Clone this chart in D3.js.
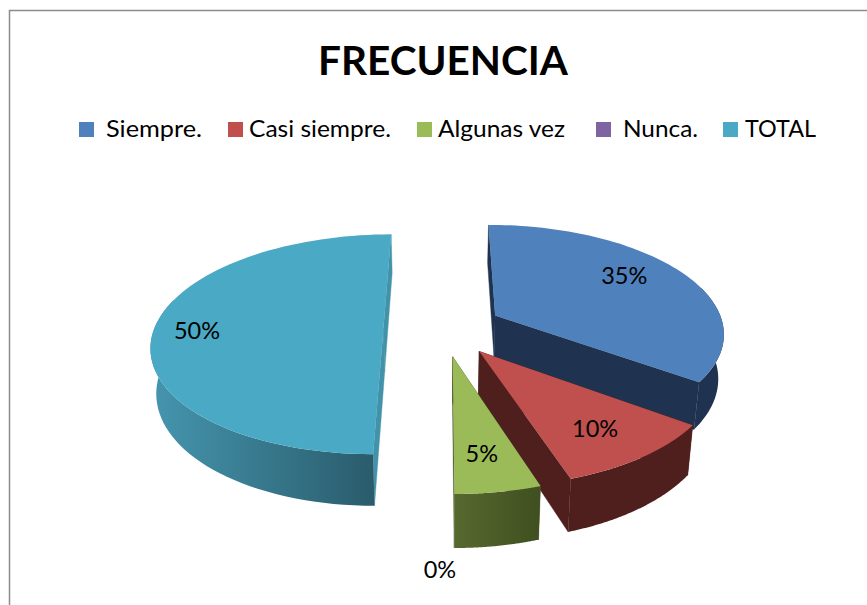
<!DOCTYPE html>
<html><head><meta charset="utf-8">
<script src="https://cdn.jsdelivr.net/npm/d3@7"></script>
<style>html,body{margin:0;padding:0;background:#fff}svg{display:block}text{font-family:Lato,"Open Sans",sans-serif;fill:#000}</style>
</head><body><svg id="c" width="867" height="605"></svg>
<script>
const categories = ["Siempre.", "Casi siempre.", "Algunas vez", "Nunca.", "TOTAL"];
const values = [35, 10, 5, 0, 50];
const topColors = ["#4f81bd", "#c0504d", "#9bbb59", "#8064a2", "#4aa9c4"];
const wallFrom = ["#1f3350", "#4f1f1e", "#57692f", "#40304f", "#4596af"];
const wallTo = ["#1f3350", "#4f1f1e", "#3f4f20", "#40304f", "#2a5c6c"];
const faceColors = ["#1f3350", "#4f1f1e", "#4a5a28", "#40304f", "#4292aa"];
const labels = ["35%", "10%", "5%", "0%", "50%"];
const legendSwatchX = [79, 228, 417, 596, 723];
const legendTextX = [106, 249, 438, 623, 745];
const legendTextW = [96, 142, 127, 75, 71];
const labelPolar = [[.74, 57], [.75, 145], [.745, 172], [1.43, 180.4], [.81, 268]];

const cx = 443, cy = 328, R = 229, Q = 107.5, p = .148, H = 44, shrink = .98, explode = .26;
const svg = d3.select("#c");
svg.append("path").attr("d", "M9.5,605V10.5H867").attr("fill", "none").attr("stroke", "#8c8c8c").attr("stroke-width", 1.5);

const rad = d3.scaleLinear().domain([0, 360]).range([0, 2 * Math.PI]);
const arcs = d3.pie().sort(null).value(d => d).startAngle(0).endAngle(2 * Math.PI)(values);
const project = (X, V, bottom) => {
  const w = 1 + p * V;
  return [cx + (bottom ? shrink : 1) * R * X / w, cy - Q * V / w + (bottom ? H / w : 0)];
};
const point = (a, mid, r, bottom) => project(
  explode * Math.sin(mid) + r * Math.sin(a),
  explode * Math.cos(mid) + r * Math.cos(a), bottom);
const line = d3.line();
const defs = svg.append("defs");

const order = [0, 4, 1, 2];
order.forEach(i => {
  const d = arcs[i], mid = (d.startAngle + d.endAngle) / 2;
  const angles = d3.range(0, 81).map(k => d.startAngle + (d.endAngle - d.startAngle) * k / 80);
  const top = angles.map(a => point(a, mid, 1, false));
  const wallAngles = angles.filter(a => Math.cos(a) < .3);
  const wallTop = wallAngles.map(a => point(a, mid, 1, false));
  const wallBot = wallAngles.map(a => point(a, mid, 1, true));
  const apexT = point(0, mid, 0, false), apexB = point(0, mid, 0, true);
  const g = svg.append("g");
  const xs = wallTop.concat(wallBot).map(q => q[0]);
  const id = "wall" + i;
  const grad = defs.append("linearGradient").attr("id", id).attr("gradientUnits", "userSpaceOnUse")
    .attr("x1", d3.min(xs)).attr("x2", i === 4 ? wallTop[0][0] : d3.max(xs)).attr("y1", 0).attr("y2", 0);
  grad.append("stop").attr("offset", 0).attr("stop-color", wallFrom[i]);
  grad.append("stop").attr("offset", 1).attr("stop-color", wallTo[i]);
  [0, angles.length - 1].forEach(e => {
    const b = point(angles[e], mid, 1, true);
    g.append("path").attr("d", line([apexT, top[e], b, apexB]) + "Z").attr("fill", faceColors[i])
      .attr("stroke", faceColors[i]).attr("stroke-width", .4);
  });
  g.append("path").attr("d", line(wallTop.concat(wallBot.slice().reverse())) + "Z").attr("fill", `url(#${id})`);
  g.append("path").attr("d", line([apexT].concat(top)) + "Z").attr("fill", topColors[i]);
});

labels.forEach((t, i) => {
  const d = arcs[i], mid = (d.startAngle + d.endAngle) / 2;
  const q = point(rad(labelPolar[i][1]), mid, labelPolar[i][0], false);
  svg.append("text").attr("x", q[0]).attr("y", q[1]).attr("dy", "0.35em").attr("text-anchor", "middle")
    .attr("font-size", 23.5).text(t);
});

svg.append("text").attr("x", 443).attr("y", 75).attr("text-anchor", "middle")
  .attr("font-size", 40.5).attr("font-weight", 700).text("FRECUENCIA");

categories.forEach((c, i) => {
  svg.append("rect").attr("x", legendSwatchX[i]).attr("y", 122).attr("width", 15).attr("height", 15).attr("fill", topColors[i]);
  svg.append("text").attr("x", legendTextX[i]).attr("y", 137).attr("font-size", 24)
    .attr("textLength", legendTextW[i]).attr("lengthAdjust", "spacingAndGlyphs").text(c);
});
</script></body></html>
